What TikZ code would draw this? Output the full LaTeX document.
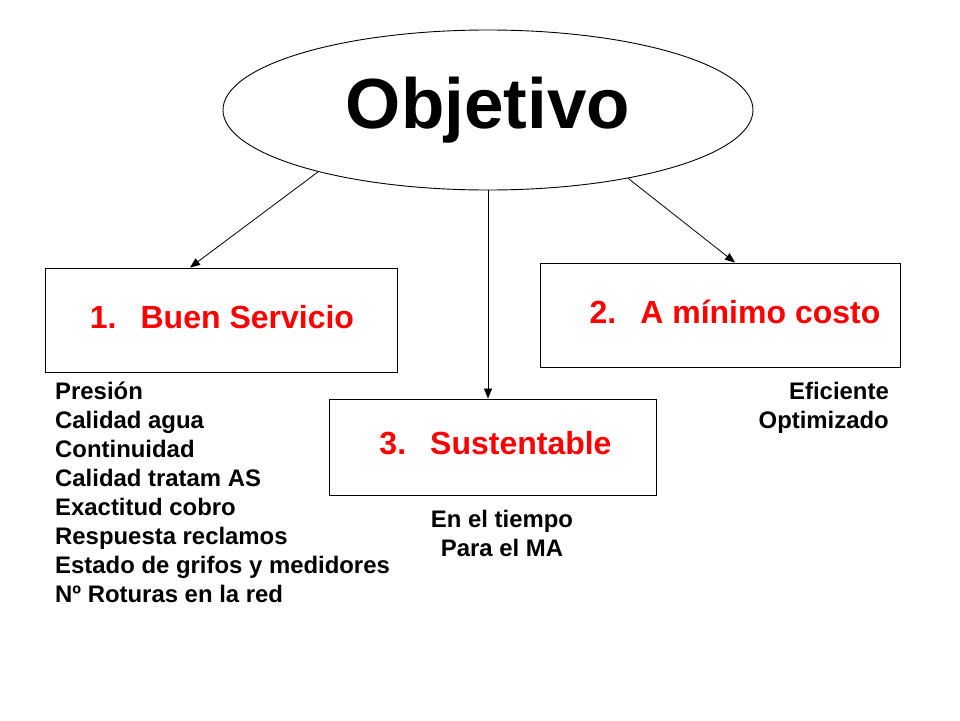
\documentclass[tikz,border=0pt]{standalone}
\usepackage{fontspec}
\setmainfont{Liberation Sans}
\usetikzlibrary{arrows.meta,shapes.geometric}

\begin{document}
\begin{tikzpicture}[x=1pt,y=-1pt,
  box/.style={draw,line width=0.9pt,inner sep=0pt},
  boxlabel/.style={text=red,font=\bfseries\fontsize{32}{36}\selectfont},
  notes/.style={font=\bfseries\fontsize{23.9}{29}\selectfont,inner sep=0pt},
  arr/.style={line width=0.8pt,-{Triangle[length=10pt,width=8pt]}}]
  \useasboundingbox (0,0) rectangle (960,720);
  \node[draw,ellipse,line width=0.9pt,minimum width=530pt,minimum height=160pt,inner sep=0pt,
        font=\bfseries\fontsize{71}{80}\selectfont] (obj) at (488,110) {Objetivo};
  \node[box,minimum width=352pt,minimum height=104pt] (b1) at (221,320) {};
  \node[box,minimum width=360pt,minimum height=104pt] (b2) at (720,315) {};
  \node[box,minimum width=327pt,minimum height=96pt] (b3) at (492.5,447) {};
  \node[boxlabel] (l1) at ([xshift=1pt,yshift=3pt]b1.center) {1.\hspace{0.75em}Buen Servicio};
  \node[boxlabel] (l2) at ([xshift=15pt,yshift=3pt]b2.center) {2.\hspace{0.75em}A mínimo costo};
  \node[boxlabel] (l3) at ([xshift=3pt,yshift=4pt]b3.center) {3.\hspace{0.75em}Sustentable};
  \draw[arr] (obj.200) -- ([xshift=-31pt]b1.north);
  \draw[arr] (obj.south) -- (obj.south |- b3.north);
  \draw[arr] (obj.334) -- ([xshift=15pt]b2.north);
  \node[notes,anchor=north west,align=left] (n1) at (55,382) {Presión\\Calidad agua\\Continuidad\\Calidad tratam AS\\Exactitud cobro\\Respuesta reclamos\\Estado de grifos y medidores\\Nº Roturas en la red};
  \node[notes,anchor=north east,align=right] (n2) at (889,382) {Eficiente\\Optimizado};
  \node[notes,anchor=north,align=center] (n3) at (502,510) {En el tiempo\\Para el MA};
\end{tikzpicture}
\end{document}
